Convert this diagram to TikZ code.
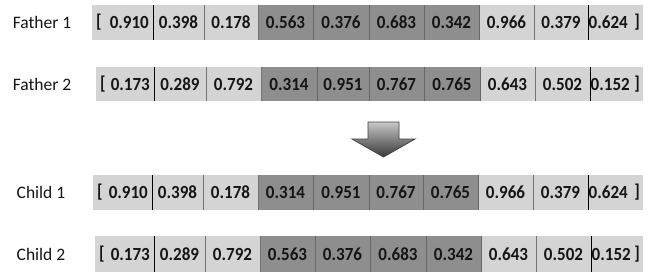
\documentclass[tikz,border=0pt]{standalone}
\usepackage{fontspec}
\setmainfont{Carlito}
\newfontfamily\valfont[FakeStretch=0.92]{Carlito}
\definecolor{lite}{HTML}{D4D4D4}
\definecolor{dark}{HTML}{8E8E8E}
\definecolor{ink}{HTML}{151515}
\tikzset{
  cell/.style={inner sep=0pt, outer sep=0pt, draw=none},
  val/.style={inner sep=0pt, text=ink, font=\valfont\fontsize{18.5}{21}\selectfont\bfseries},
  rowlabel/.style={inner sep=0pt, text=ink, font=\fontsize{17.5}{20}\selectfont},
  divlite/.style={draw=black!55, line width=0.9pt},
  divdark/.style={draw=black!60, line width=0.9pt},
  divblack/.style={draw=black, line width=1pt},
  blockarrow/.style={draw=black!75, line width=0.8pt, top color=black!22, bottom color=black!78}
}
\newcommand\generow[4]{%
  \foreach \a/\b/\v/\f [count=\i] in {#4} {
    \node[cell, fill=\f, minimum width={\b-\a}, minimum height={#3-#2}, anchor=north west] (#1-\i) at (\a,#2) {};
    \ifnum\i=1
      \node[val, anchor=west] (#1-lb) at ([xshift=4pt]#1-\i.west) {[};
      \node[val, anchor=east] (#1-v\i) at ([xshift=-4pt]#1-\i.east) {\v};
    \else\ifnum\i=10
      \node[val, anchor=west] (#1-v\i) at ([xshift=0.5pt]#1-\i.west) {\v};
      \node[val, anchor=east] (#1-rb) at ([xshift=-3pt]#1-\i.east) {]};
    \else
      \node[val] (#1-v\i) at (#1-\i.center) {\v};
    \fi\fi
  }
  \foreach \j/\s in {1/divblack,2/divlite,3/divlite,4/divdark,5/divdark,6/divdark,7/divdark,8/divlite,9/divblack} {
    \draw[\s] (#1-\j.north east) -- (#1-\j.south east);
  }
}
\begin{document}
\begin{tikzpicture}[x=1pt,y=-1pt]
\useasboundingbox[fill=white] (0,0) rectangle (650,276);

\node[rowlabel] (lf1) at (42,22.5) {Father 1};
\node[rowlabel] (lf2) at (42,84) {Father 2};
\node[rowlabel] (lc1) at (41,192.5) {Child 1};
\node[rowlabel] (lc2) at (41,254) {Child 2};

\generow{f1}{5}{40}{92/153/0.910/lite,153/204/0.398/lite,204/258/0.178/lite,258/313/0.563/dark,313/369/0.376/dark,369/424/0.683/dark,424/479/0.342/dark,479/534/0.966/lite,534/588/0.379/lite,588/643/0.624/lite}
\generow{f2}{67}{101}{96/154/0.173/lite,154/206/0.289/lite,206/261/0.792/lite,261/317/0.314/dark,317/369/0.951/dark,369/424/0.767/dark,424/480/0.765/dark,480/535/0.643/lite,535/590/0.502/lite,590/643/0.152/lite}
\generow{c1}{175}{210}{93/152/0.910/lite,152/203/0.398/lite,203/258/0.178/lite,258/313/0.314/dark,313/369/0.951/dark,369/423/0.767/dark,423/478/0.765/dark,478/533/0.966/lite,533/588/0.379/lite,588/643/0.624/lite}
\generow{c2}{236}{272}{95/154/0.173/lite,154/205/0.289/lite,205/260/0.792/lite,260/315/0.563/dark,315/370/0.376/dark,370/426/0.683/dark,426/481/0.342/dark,481/536/0.643/lite,536/591/0.502/lite,591/643/0.152/lite}

\path[blockarrow] (368,122) -- (399,122) -- (399,139) -- (415,139) -- (383.5,157) -- (352,139) -- (368,139) -- cycle;
\end{tikzpicture}
\end{document}
